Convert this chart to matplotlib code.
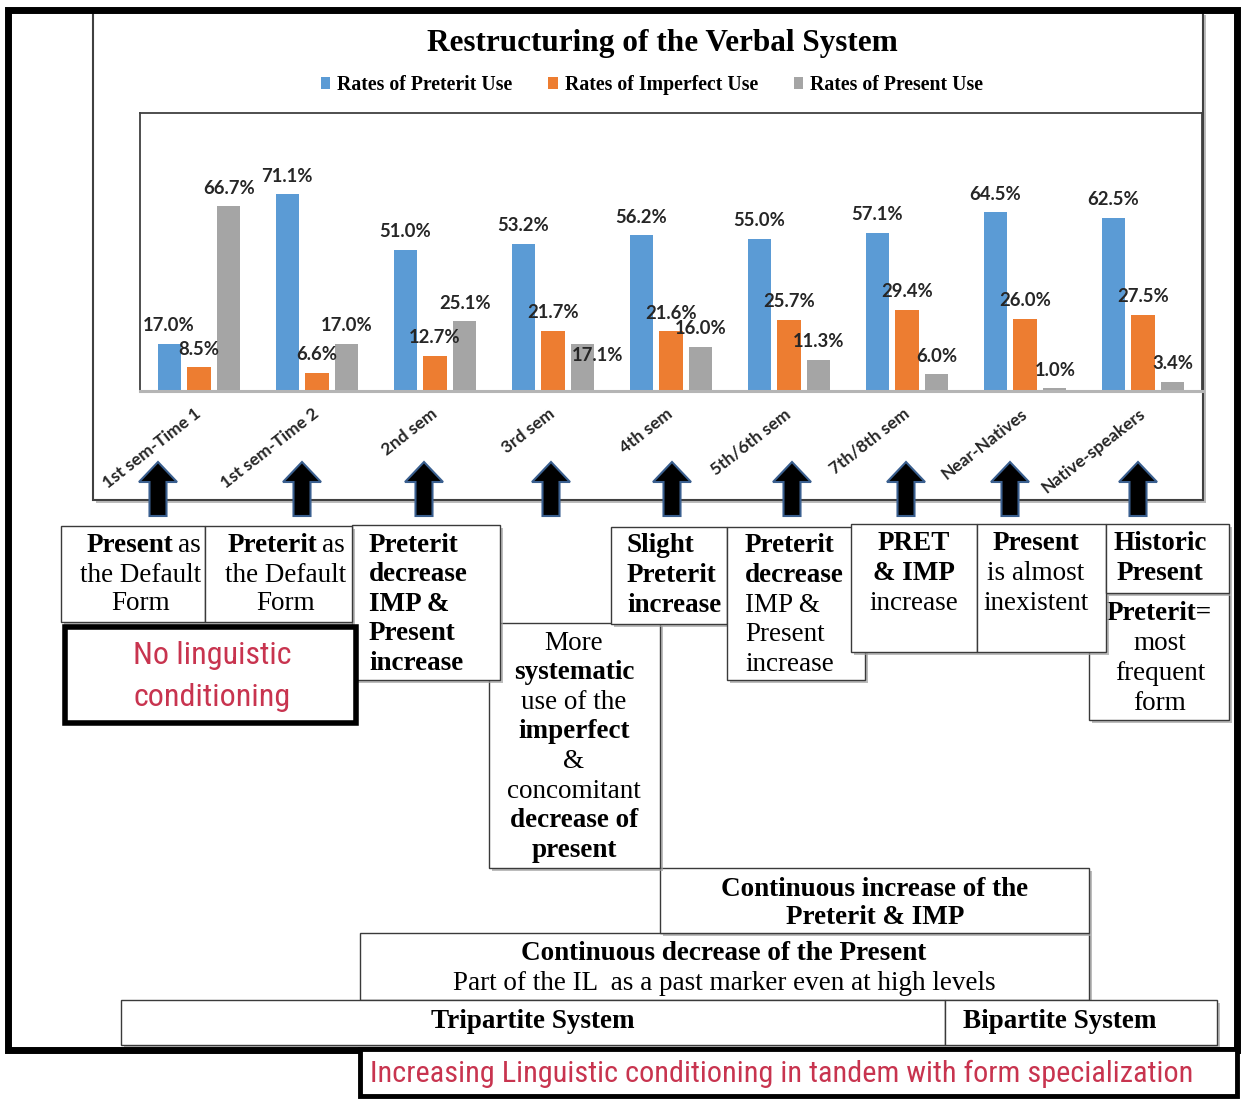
import matplotlib
matplotlib.use('Agg')
import matplotlib.pyplot as plt
from matplotlib.patches import Rectangle, FancyArrow
from matplotlib.font_manager import FontProperties

W, H = 1241, 1099

# ---------------- data ----------------
categories = ["1st sem-Time 1", "1st sem-Time 2", "2nd sem", "3rd sem", "4th sem",
              "5th/6th sem", "7th/8th sem", "Near-Natives", "Native-speakers"]
preterit = [17.0, 71.1, 51.0, 53.2, 56.2, 55.0, 57.1, 64.5, 62.5]
imperfect = [8.5, 6.6, 12.7, 21.7, 21.6, 25.7, 29.4, 26.0, 27.5]
present = [66.7, 17.0, 25.1, 17.1, 16.0, 11.3, 6.0, 1.0, 3.4]
series_names = ["Rates of Preterit Use", "Rates of Imperfect Use", "Rates of Present Use"]
title = "Restructuring of the Verbal System"

colors = ['#5B9BD5', '#ED7D31', '#A5A5A5']
RED = '#c8344f'
SERIF = 'Liberation Serif'
NARROW = ['Roboto Condensed', 'Open Sans Condensed', 'Lato', 'DejaVu Sans']
BOX_FS = 19.5

fig = plt.figure(figsize=(W / 100, H / 100), dpi=100)
bg = fig.add_axes([0, 0, 1, 1])
bg.set_xlim(0, W)
bg.set_ylim(H, 0)
bg.axis('off')


def box(x0, y0, x1, y1, z, lw=1.0, ec='#3a3a3a', shadow=True):
    if shadow:
        bg.add_patch(Rectangle((x0 + 3, y0 + 3), x1 - x0, y1 - y0, fc='#a0a0a0',
                               ec='none', alpha=0.7, zorder=z - 0.1))
    bg.add_patch(Rectangle((x0, y0), x1 - x0, y1 - y0, fc='white', ec=ec, lw=lw, zorder=z))


def t(x, y, s, z, bold=False, ha='center', size=BOX_FS, family=SERIF, color='black',
      stretch='normal'):
    bg.text(x, y, s, ha=ha, va='center', fontsize=size, family=family,
            fontweight='bold' if bold else 'normal', color=color, zorder=z + 0.05,
            fontstretch=stretch)


# outer chart box
box(93, 12, 1203, 500, 1, lw=1.5, ec='#404040')

# title
bg.text(662, 43, title, ha='center', va='center', fontsize=22.5, family=SERIF,
        fontweight='bold', zorder=2)

# ---------------- bar chart ----------------
px_per_unit = 2.77
ax = fig.add_axes([140 / W, 1 - 391 / H, 1062 / W, 278 / H])
ax.set_zorder(2)
ax.patch.set_alpha(0)
ax.set_xlim(-0.5, 8.5)
ax.set_ylim(0, 278 / px_per_unit)
offs = [-0.254, 0.0, 0.254]
bw = 0.195
series = [preterit, imperfect, present]
handles = []
for k, (vals, c) in enumerate(zip(series, colors)):
    xs = [i + offs[k] for i in range(len(categories))]
    b = ax.bar(xs, vals, width=bw, color=c, zorder=2)
    handles.append(b)
    for i, (x, v) in enumerate(zip(xs, vals)):
        dx, dy = 0.0, 6.5
        if k == 2 and i == 3:
            dx, dy = 0.12, -4.2
        ax.text(x + dx, v + dy, f"{v:.1f}%", ha='center', va='center', fontsize=13.3,
                family='Lato', fontweight='bold', color='#262626', zorder=3)

ax.set_yticks([])
ax.set_xticks(range(len(categories)))
ax.set_xticklabels(categories, rotation=38, ha='right', va='center',
                   rotation_mode='anchor', fontsize=12.5, family='Lato', fontweight='bold',
                   color='#262626')
ax.tick_params(axis='x', length=0, pad=15)
for s in ['left', 'top', 'right']:
    ax.spines[s].set_color('#404040')
    ax.spines[s].set_linewidth(1.3)
ax.spines['bottom'].set_color('#b5b5b5')
ax.spines['bottom'].set_linewidth(2.2)

fig.legend(handles, series_names, loc='center', bbox_to_anchor=(652 / W, 1 - 85 / H),
           ncol=3, frameon=False,
           prop=FontProperties(family=SERIF, weight='bold', size=14.2),
           handlelength=0.5, handleheight=0.5, handletextpad=0.35, columnspacing=1.8)

# ---------------- arrows ----------------
arrow_x = [158, 302, 424, 551, 672, 792, 906, 1010, 1138]
for x in arrow_x:
    bg.add_patch(FancyArrow(x, 516, 0, -54, width=17, head_width=38, head_length=20,
                            length_includes_head=True, fc='black', ec='#3a5f8f',
                            lw=1.5, zorder=5))

# ---------------- boxes ----------------
box(360, 933, 1089, 1000, 3)
t(724, 954, "Continuous decrease of the Present", 3, bold=True)
t(724, 983, "Part of the IL  as a past marker even at high levels", 3)

box(660, 868, 1089, 933, 3.2)
t(875, 889, "Continuous increase of the", 3.2, bold=True)
t(875, 917, "Preterit & IMP", 3.2, bold=True)

box(121, 1000, 945, 1045, 3.4)
t(533, 1021, "Tripartite System", 3.4, bold=True)
box(945, 1000, 1217, 1045, 3.4)
t(1060, 1021, "Bipartite System", 3.4, bold=True)

box(489, 623, 660, 868, 3.6)
more_lines = [("More", False), ("systematic", True), ("use of the", False),
              ("imperfect", True), ("&", False), ("concomitant", False),
              ("decrease of", True), ("present", True)]
for j, (s, b) in enumerate(more_lines):
    t(574, 643 + j * 29.6, s, 3.6, bold=b)

box(352, 525, 500, 680, 3.8)
for j, s in enumerate(["Preterit", "decrease", "IMP &", "Present", "increase"]):
    t(369, 545 + j * 29.6, s, 3.8, bold=True, ha='left')

box(61, 526, 205, 622, 4.0)
t(173, 546, "Present", 4.0, bold=True, ha='right')
t(178, 546, "as", 4.0, ha='left')
t(141, 575, "the Default", 4.0)
t(141, 604, "Form", 4.0)

box(205, 526, 352, 622, 4.0)
t(317, 546, "Preterit", 4.0, bold=True, ha='right')
t(322, 546, "as", 4.0, ha='left')
t(286, 575, "the Default", 4.0)
t(286, 604, "Form", 4.0)

bg.add_patch(Rectangle((65, 627), 291, 96, fc='white', ec='black', lw=4, zorder=4.2))
t(212, 655, "No linguistic", 4.2, size=23, family=NARROW, color=RED, stretch='condensed')
t(212, 697, "conditioning", 4.2, size=23, family=NARROW, color=RED, stretch='condensed')

box(611, 527, 727, 624, 4.4)
for j, s in enumerate(["Slight", "Preterit", "increase"]):
    t(627, 546 + j * 29.6, s, 4.4, bold=True, ha='left')

box(727, 527, 865, 680, 4.6)
for j, (s, b) in enumerate([("Preterit", True), ("decrease", True), ("IMP &", False),
                            ("Present", False), ("increase", False)]):
    t(745, 546 + j * 29.6, s, 4.6, bold=b, ha='left')

box(851, 524, 977, 652, 4.8)
for j, (s, b) in enumerate([("PRET", True), ("& IMP", True), ("increase", False)]):
    t(914, 544 + j * 29.6, s, 4.8, bold=b)

box(1089, 593, 1229, 720, 5.0)
t(1107, 614, "Preterit=", 5.0, bold=True, ha='left')
for j, s in enumerate(["most", "frequent", "form"]):
    t(1160, 644 + j * 29.6, s, 5.0)

box(977, 524, 1106, 652, 5.2)
for j, (s, b) in enumerate([("Present", True), ("is almost", False), ("inexistent", False)]):
    t(1036, 544 + j * 29.6, s, 5.2, bold=b)

box(1106, 524, 1229, 593, 5.4)
t(1160, 544, "Historic", 5.4, bold=True)
t(1160, 573, "Present", 5.4, bold=True)

# outer frame
bg.add_patch(Rectangle((8, 10), 1229, 1040, fc='none', ec='black', lw=5, zorder=6))

# bottom red banner
bg.add_patch(Rectangle((360, 1049), 877, 47, fc='white', ec='black', lw=3.5, zorder=6.2))
t(782, 1074, "Increasing Linguistic conditioning in tandem with form specialization",
  6.2, size=21.8, family=NARROW, color=RED, stretch='condensed')

fig.savefig('out.png', dpi=100)
